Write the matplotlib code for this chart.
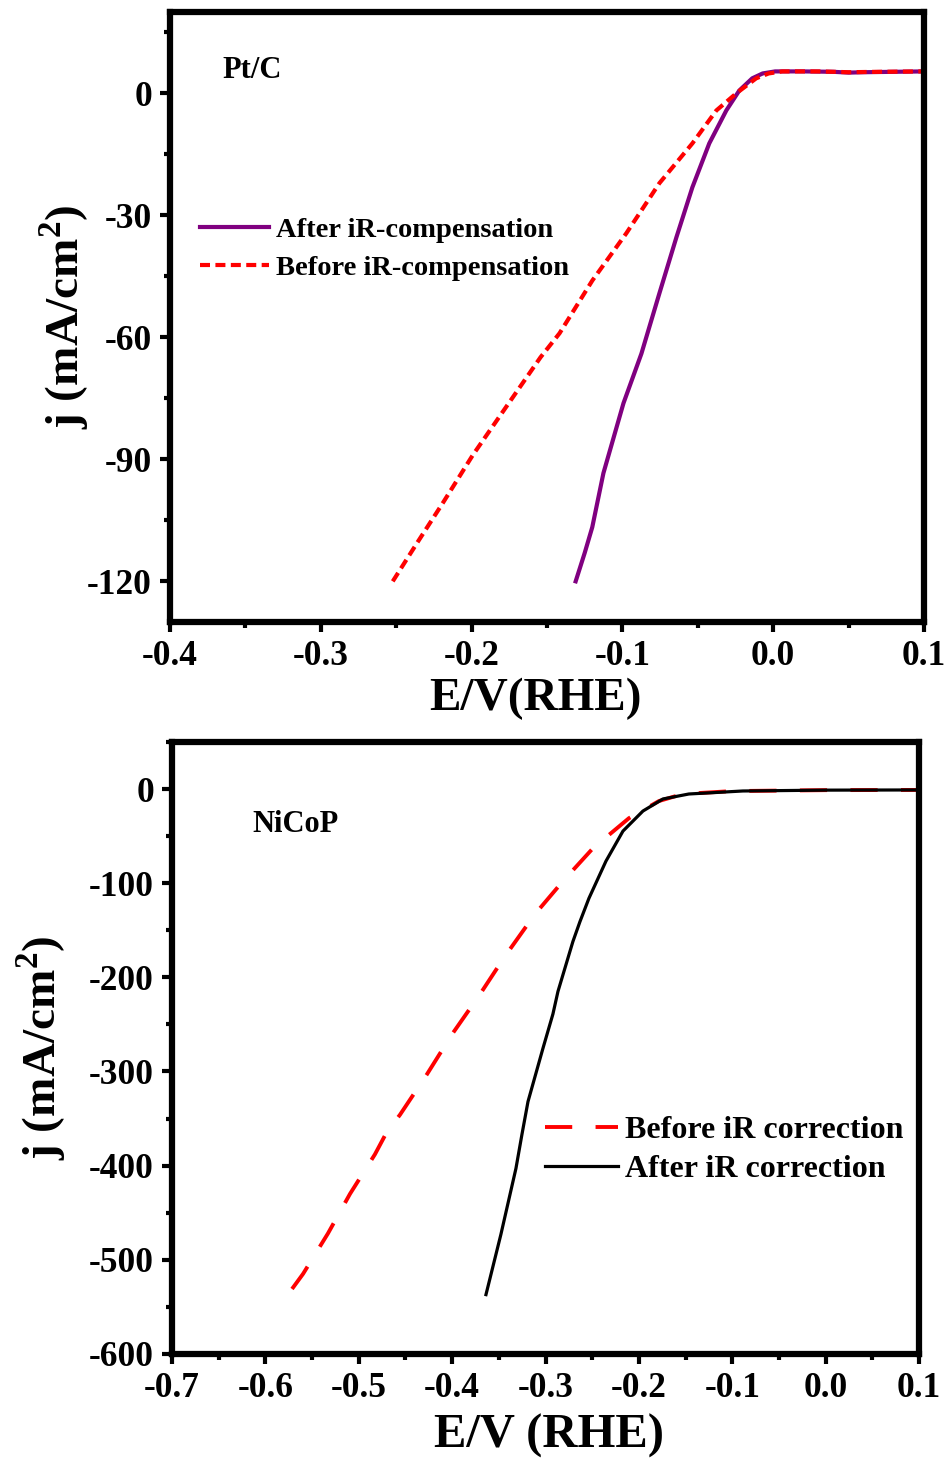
import matplotlib
matplotlib.use("Agg")
import matplotlib.pyplot as plt
from matplotlib.ticker import MultipleLocator, FormatStrFormatter

# ---- Pt/C panel ----
ptc_after_E = [-0.131, -0.125, -0.120, -0.1126, -0.0993, -0.0874, -0.0755,
               -0.0642, -0.0536, -0.0424, -0.0311, -0.0225, -0.0139, -0.0070,
               0.0013, 0.02, 0.04, 0.05, 0.06, 0.08, 0.1]
ptc_after_j = [-120, -113, -106.7, -93.4, -76.2, -64.0, -49.2,
               -35.4, -23.1, -12.3, -4.2, 0.7, 3.7, 4.9,
               5.4, 5.4, 5.3, 5.1, 5.2, 5.3, 5.4]
ptc_before_E = [-0.2523, -0.2364, -0.2192, -0.1993, -0.1543, -0.1417, -0.1199,
                -0.0974, -0.0755, -0.0536, -0.0377, -0.0245, -0.0113, -0.0030,
                0.006, 0.03, 0.05, 0.07, 0.1]
ptc_before_j = [-120, -110.7, -100.8, -89.0, -64.9, -59.0, -46.0,
                -34.4, -22.1, -12.3, -4.2, 0.0, 3.7, 4.9,
                5.4, 5.4, 5.2, 5.3, 5.4]

# ---- NiCoP panel ----
nicop_after_E = [-0.3638, -0.3478, -0.3317, -0.3253, -0.3188, -0.3028, -0.2921,
                 -0.2867, -0.2707, -0.2632, -0.2535, -0.2353, -0.2171, -0.1957,
                 -0.1743, -0.1465, -0.0887, 0.0, 0.1]
nicop_after_j = [-537, -473, -403, -367, -332, -275.5, -239,
                 -215, -162, -141, -116, -76.6, -44.7, -23.4,
                 -10.6, -5.3, -2.1, -1.2, -1.0]
nicop_before_E = [-0.5715, -0.5597, -0.533, -0.5094, -0.4827, -0.4698, -0.4559,
                  -0.427, -0.4002, -0.3702, -0.3435, -0.3114, -0.2814, -0.2493,
                  -0.2107, -0.1786, -0.153, -0.10, 0.0, 0.1]
nicop_before_j = [-531, -515, -472, -430, -388, -364, -346,
                  -303, -260.6, -218, -177.7, -133, -97.9, -63,
                  -31, -12.8, -5.3, -2.2, -1.2, -1.0]

plt.rcParams["font.family"] = ["Liberation Serif", "DejaVu Serif"]
plt.rcParams["font.weight"] = "bold"
plt.rcParams["axes.unicode_minus"] = False
plt.rcParams["mathtext.fontset"] = "custom"
plt.rcParams["mathtext.rm"] = "Liberation Serif:bold"
plt.rcParams["mathtext.bf"] = "Liberation Serif:bold"

fig = plt.figure(figsize=(9.52, 14.68), dpi=100)
ax1 = fig.add_axes([0.1786, 0.5763, 0.792, 0.4155])
ax2 = fig.add_axes([0.1807, 0.0777, 0.7847, 0.4169])


def style(ax):
    for s in ax.spines.values():
        s.set_linewidth(4.5)
    ax.tick_params(which="major", direction="out", length=7, width=3,
                   labelsize=25.5, pad=6)
    ax.tick_params(which="minor", direction="out", length=4, width=3)
    ax.tick_params(top=False, right=False, which="both")
    for lab in ax.get_xticklabels() + ax.get_yticklabels():
        lab.set_fontweight("bold")


# top panel
ax1.plot(ptc_after_E, ptc_after_j, color="#800080", lw=3,
         label="After iR-compensation")
ax1.plot(ptc_before_E, ptc_before_j, color="#ff0000", lw=3,
         linestyle=(0, (2.4, 1.3)), label="Before iR-compensation")
ax1.set_xlim(-0.4, 0.1)
ax1.set_ylim(-130, 20)
ax1.xaxis.set_major_locator(MultipleLocator(0.1))
ax1.xaxis.set_minor_locator(MultipleLocator(0.05))
ax1.xaxis.set_major_formatter(FormatStrFormatter("%.1f"))
ax1.yaxis.set_major_locator(MultipleLocator(30))
ax1.yaxis.set_minor_locator(MultipleLocator(15))
style(ax1)
ax1.set_xlabel("E/V(RHE)", fontsize=34, fontweight="bold")
ax1.set_ylabel("j (mA/cm$^{2}$)", fontsize=34, fontweight="bold")
ax1.xaxis.set_label_coords(0.484, -0.092)
ax1.yaxis.set_label_coords(-0.105, 0.5)
ax1.text(0.069, 0.892, "Pt/C", transform=ax1.transAxes, fontsize=22,
         fontweight="bold")
ax1.legend(loc="upper left", bbox_to_anchor=(0.025, 0.682), frameon=False,
           fontsize=20.5, handlelength=2.4, handletextpad=0.25,
           labelspacing=0.42, borderaxespad=0)

# bottom panel
ax2.plot(nicop_before_E, nicop_before_j, color="#ff0000", lw=2.8,
         linestyle=(0, (7, 6)), label="Before iR correction")
ax2.plot(nicop_after_E, nicop_after_j, color="black", lw=2.3,
         label="After iR correction")
ax2.set_xlim(-0.7, 0.1)
ax2.set_ylim(-600, 50)
ax2.xaxis.set_major_locator(MultipleLocator(0.1))
ax2.xaxis.set_minor_locator(MultipleLocator(0.05))
ax2.xaxis.set_major_formatter(FormatStrFormatter("%.1f"))
ax2.yaxis.set_major_locator(MultipleLocator(100))
ax2.yaxis.set_minor_locator(MultipleLocator(50))
style(ax2)
ax2.set_xlabel("E/V (RHE)", fontsize=35, fontweight="bold")
ax2.set_ylabel("j (mA/cm$^{2}$)", fontsize=34, fontweight="bold")
ax2.xaxis.set_label_coords(0.505, -0.097)
ax2.yaxis.set_label_coords(-0.139, 0.5)
ax2.text(0.108, 0.853, "NiCoP", transform=ax2.transAxes, fontsize=22,
         fontweight="bold")
ax2.legend(loc="upper left", bbox_to_anchor=(0.482, 0.41), frameon=False,
           fontsize=23, handlelength=2.3, handletextpad=0.22,
           labelspacing=0.3, borderaxespad=0)

fig.savefig("out.png", dpi=100)
